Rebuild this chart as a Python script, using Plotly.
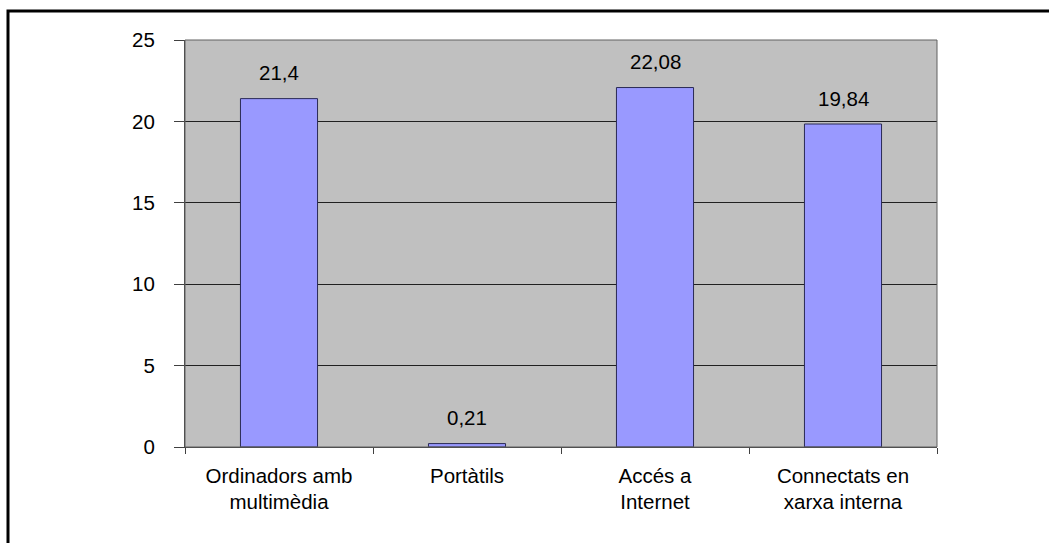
import plotly.graph_objects as go

categories = ["Ordinadors amb<br>multimèdia", "Portàtils", "Accés a<br>Internet", "Connectats en<br>xarxa interna"]
values = [21.4, 0.21, 22.08, 19.84]
value_labels = ["21,4", "0,21", "22,08", "19,84"]
y_ticks = [0, 5, 10, 15, 20, 25]

W, H = 1049, 543
L, R, T, B = 185, 937, 40, 447
FONT = "Liberation Sans, Arial"
FS = 20.5

fig = go.Figure(go.Bar(
    x=categories, y=values,
    marker=dict(color="#9999FF", line=dict(color="#2a2a55", width=1)),
    width=0.41,
))

for c, v, t in zip(categories, values, value_labels):
    fig.add_annotation(x=c, y=v, text=t, showarrow=False, yanchor="middle",
                       yshift=26, font=dict(size=FS, color="black", family=FONT))

def px_x(p):
    return (p - L) / (R - L)

def px_y(p):
    return (B - p) / (B - T)

fig.update_layout(
    width=W, height=H,
    margin=dict(l=L, r=W - R, t=T, b=H - B, pad=0),
    paper_bgcolor="white", plot_bgcolor="#C0C0C0",
    font=dict(family=FONT, size=FS, color="black"),
    showlegend=False,
    xaxis=dict(type="category", range=[-0.5, 3.5], tickson="boundaries",
               ticks="outside", ticklen=6, tickcolor="#404040",
               showline=True, linecolor="#404040", linewidth=1, mirror=False,
               showgrid=False, tickfont=dict(size=FS), ticklabelstandoff=10),
    yaxis=dict(range=[0, 25], tickvals=y_ticks, ticks="outside", ticklen=10,
               tickcolor="#404040", showline=True, linecolor="#404040", linewidth=1,
               showgrid=True, gridcolor="#202020", gridwidth=1,
               tickfont=dict(size=FS), ticklabelstandoff=15, zeroline=False),
    shapes=[
        dict(type="rect", xref="paper", yref="paper", x0=0, x1=1, y0=0, y1=1,
             line=dict(color="#606060", width=1), layer="above"),
        dict(type="path", xref="paper", yref="paper",
             path=f"M {px_x(8)} {px_y(560)} L {px_x(8)} {px_y(11)} L {px_x(1060)} {px_y(11)}",
             line=dict(color="black", width=3)),
    ],
)

fig.write_html("out.html")
